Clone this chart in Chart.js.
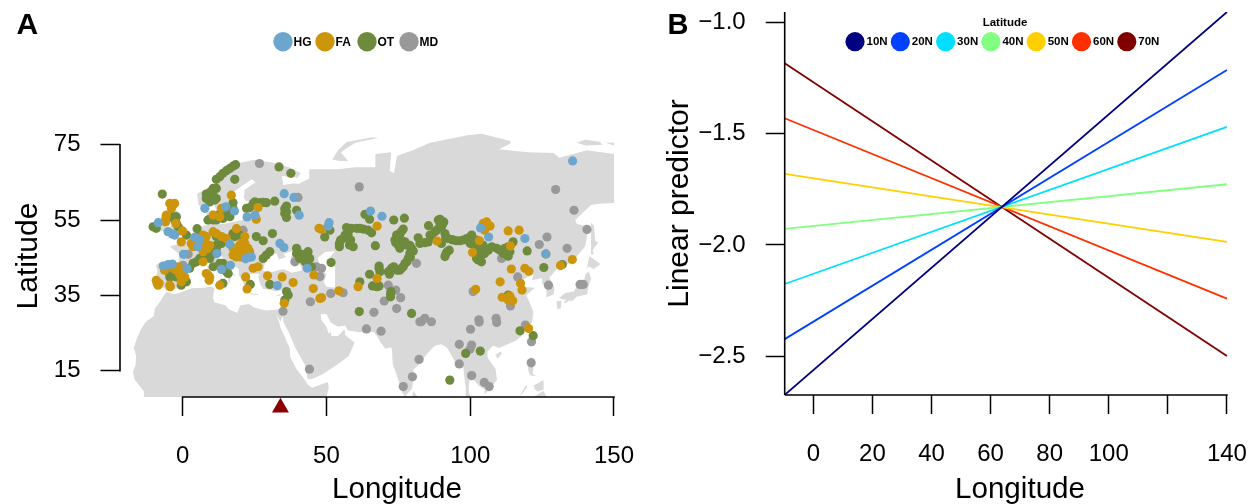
<!DOCTYPE html>
<html><head><meta charset="utf-8">
<style>
html,body{margin:0;padding:0;background:#fff;width:1257px;height:504px;overflow:hidden}
canvas{position:absolute;top:0}
#a{left:0}#b{left:660px}
</style>
<script src="https://cdn.jsdelivr.net/npm/chart.js@4"></script>
</head><body>
<canvas id="a" width="674" height="504"></canvas>
<canvas id="b" width="597" height="504"></canvas>
<script>
// ---------- Panel A data ----------
const mapXTicks=[0,50,100,150];
const mapYTicks=[15,35,55,75];
const groupNames=['HG','FA','OT','MD'];
const groupColors=['#6CA6CD','#CD950C','#6E8B3D','#999999'];
const sampleSiteLon=[34];
const sampleSiteLat=[5.2];
const hgPoints=[[-8.5,54.3],[-5.1,51.9],[-3.6,51.3],[-2.8,51],[4.2,50.4],[5.9,49.8],[5.3,47.9],[0.3,45.9],[-6.8,42.8],[-5.1,43.2],[-3.6,43.3],[1.5,42.1],[7.7,58.1],[15,58.5],[18,57.4],[22.4,55.8],[25.1,56.3],[16.4,48.6],[11.9,46.1],[13.5,41.9],[16.6,43],[21.9,44.7],[23.1,45.1],[23.9,45.2],[35.3,62],[38.7,61],[40.5,56.3],[33.8,48.8],[35.2,47.7],[43.3,42.2],[32.9,37.6],[50.9,54.3],[50.6,53.4],[65.3,57.4],[69.3,56],[103.6,52.9],[106.4,50.5],[119,50.1],[126.3,46],[135.6,70.7]];
const faPoints=[[-3.4,59],[-2.8,59.4],[-3.9,58.1],[-5.7,56.3],[-5.9,54.5],[-2.4,54.1],[-0.1,52.1],[-0.5,49.2],[3,48.8],[3.6,47.9],[7.1,51],[7.7,49.2],[8.8,47.5],[7.1,46.6],[10.6,51.9],[11.7,51.4],[13.5,50.6],[15.2,50.1],[18.7,52.7],[21.6,50.6],[19.8,48.3],[21.6,47.5],[18.7,46.6],[23.3,46.6],[17.5,45.7],[20.1,45.2],[22.7,47.5],[10.6,56.3],[13.5,58.1],[12.9,55.9],[16.9,61.6],[26.2,58.3],[25.6,55.2],[-9.2,39],[-8.2,38.2],[-4.3,37.3],[-0.5,38.6],[-1.6,42.6],[0.1,40.8],[7.1,43.9],[8.8,40.4],[9.2,39],[12.9,37.7],[21.9,39.9],[22.4,36.7],[24.5,42.2],[26.2,42.6],[29.5,40.2],[34.6,39.9],[38.4,38.4],[35.3,32.9],[45.6,40.4],[45.4,36.8],[47.7,34.2],[47.4,52.8],[17.5,47.5],[19.8,46.6],[21.6,48.8],[18.7,45.2],[6.5,48.3],[4.2,48.3],[-8.9,38.2],[-1,40.4],[-3.4,42.2],[-6.3,41.7],[48.3,52.5],[67.6,53.4],[88.5,49.4],[67.6,39.5],[61,37.3],[54.3,36.2],[48.3,34.4],[105.7,54.5],[106.9,53.4],[104.5,54.1],[105,52.3],[103.2,49.5],[100.8,46.4],[113.2,52.1],[117,52.3],[114,48.1],[114.3,42],[119,42.2],[120.4,41.4],[131.4,42.9],[135.5,44.5],[110.4,38.6],[117.5,38.2],[118,36.4],[101.9,36.6],[111.1,34.5],[113.8,34.8],[114.8,33.6],[113.2,33.8],[126.3,46],[120.3,26.2],[19.3,47.5],[21,46.1],[20.4,48.8],[22.7,45.7],[-2.2,41.7],[-0.5,41.7],[0.7,39.9],[-8.6,37.7],[-4.5,37.7],[8.2,40.8],[9.4,39.9],[-4.5,59.4],[-5.9,55.4],[8.2,50.6],[5.9,48.8],[9.4,48.3]];
const otPoints=[[11.7,65.8],[12.9,66.5],[14,67.4],[15.2,68.1],[16.4,68.7],[17.5,69.3],[18.4,69.7],[18.1,65.8],[33.5,69.1],[37.6,67.4],[-7.1,61.9],[8.2,61.9],[10.6,63.4],[11.7,63.4],[10,60.7],[10.6,61.6],[9.4,59.8],[11.7,60.7],[17.5,59.6],[17.5,58.1],[22.2,58.1],[23.3,58.3],[25.1,59.8],[26.8,59.6],[29.1,59.6],[32,60],[36.1,58.7],[36.1,57.2],[36.1,55.7],[39.6,57.6],[9.4,55.2],[11.7,55],[14,55.4],[16.4,57.2],[-10.3,53.2],[-9.2,52.8],[-2.2,55.9],[-2.2,54.1],[5,52.7],[1.3,51],[18.1,50.6],[25.6,50.6],[28,49.5],[31.2,51.4],[29.1,45.7],[28,44.8],[30.3,46.6],[11.7,48.3],[10.6,47],[8.2,45.2],[9.4,44.8],[5.9,44.8],[3.6,43.5],[2.4,42.2],[10.6,42.6],[14,43.5],[12.9,43.5],[15.2,41.3],[-3.4,40.4],[-4.5,39.9],[-2.2,39.9],[1.3,38.6],[14,38.2],[23.5,37.9],[30.3,37.9],[36.1,36],[36.7,35.1],[35.5,33.8],[39.6,47.5],[43,46.1],[40.7,44.8],[44.2,44.8],[41.3,45.7],[42.5,43.9],[44.8,42.6],[14.6,56.7],[11.7,50.6],[17.5,51.4],[5.9,50.6],[49.4,50.5],[51.2,52.3],[57,53],[58.7,52.8],[60.5,52.8],[62.8,52.6],[65.7,51.6],[57.5,51],[55.8,50.1],[54.5,48.8],[54.5,47.9],[58,48.4],[63.4,56.5],[65,55.2],[73.4,55],[77.1,55.5],[85.5,53.5],[89.5,55.2],[90.8,54.5],[90,53.2],[87.7,51.9],[86,51],[84.2,49],[81.9,50.3],[76.7,52.6],[75.5,51.4],[75,50.1],[74.1,49],[75.5,47.5],[77.3,49.2],[79,48.3],[80.2,46.8],[79.2,45.2],[78,43.9],[76.7,42.6],[75.5,41.7],[73.4,42.6],[71.9,40.6],[68.3,42.8],[68.6,41.3],[65,40.6],[61.6,38.6],[66.8,37.5],[68.3,37.5],[72.4,36],[72.3,34.6],[61.4,30.7],[67,48.2],[51.6,43.7],[79.6,30.2],[91.2,51.4],[92.3,50.1],[94.1,49.7],[96.4,49.5],[98.8,50.1],[100.5,51],[101.6,48.3],[103.4,46.6],[102.8,44.4],[103.9,43.9],[106.3,47],[109.2,47.5],[112,47.5],[113.2,45.4],[114.9,49.2],[119.8,46.8],[125.6,42.4],[132,43.2],[92,46.6],[91.2,45.3],[113.2,35.1],[117.3,25.6],[121.9,24.3],[98.4,19.6],[103.5,20.2],[92.9,12.5],[57.5,51.9],[56.5,51],[54.9,49.7],[58.4,49.7],[59.3,47.9],[61.6,52.8],[64.5,52.3],[74.4,51],[76,51.9],[73.8,49.7],[75,48.3],[76,49.7],[78,48.3],[79.6,47.5],[79,46.1],[78.4,44.8],[77.3,43.5],[76,42.1],[74.6,41.7],[72.6,42.2],[71.5,41.3],[68.3,42.2],[66,37.5],[67.6,37.3],[72.3,35.3],[82.5,48.8],[85.4,49.2],[86.5,50.5],[88.3,52.3],[89.5,53.6],[88.9,55],[90.4,53.9],[91.5,50.4],[93.5,49.8],[95.2,49.5],[97.6,49.7],[100,50.5],[100,48.8],[102.2,49.7],[104.5,48.3],[103.4,45.7],[102.2,44.8],[105,46.1],[107.5,47.9],[110.3,47],[111.5,46.1],[113.8,46.6],[113.2,47.9],[91.6,46.1],[92.7,47],[90,48.8],[8.2,60.7],[9.7,62.5],[11.1,60.3],[24.5,59.4],[28,59.7],[35.5,58],[35.5,56.7],[-2.8,55],[-1.6,53.2],[-3.4,55.9],[11.7,47.5],[13.5,48.8],[10.6,46.1],[7.1,45.2],[4.8,43.9],[19.8,51],[17.5,51],[-4.5,40.8],[-0.5,37.7],[15.8,40.8],[40.7,46.1],[42.5,45.2],[43.6,46.6],[39.6,46.1],[14,57.6],[12.3,56.3],[16.4,55.9],[8.8,55],[10.6,55]];
const mdPoints=[[26.7,70],[40.1,61],[1.9,45.9],[21,52.3],[44.4,33.3],[34.9,30.8],[39,43.9],[46.5,42.6],[0.1,43],[61.4,63.8],[129.7,63.1],[136.1,57.6],[140.6,52.5],[126.7,50.5],[124,48.5],[133.7,47.5],[110.9,44.8],[81.3,43.5],[48.3,42.2],[47.7,40],[51.5,35.5],[116.5,39.9],[127.2,37.7],[138.2,37.9],[139.3,37.9],[101,36],[114,32.2],[71.5,37.7],[74.1,36.4],[75.8,34.4],[70.1,33.5],[74.4,31.5],[66.5,30.5],[84.2,28.9],[86.5,28],[103,28.5],[109,28.9],[44.1,15.4],[63.9,26.1],[69,25.5],[55.8,35.7],[82.5,28],[82.2,18],[79.9,13.4],[76.7,10.8],[83,28],[100.1,26],[103.1,27.9],[109.2,27.8],[119.2,27.1],[121.3,22.7],[96.2,22],[100.5,21.8],[99.9,20.7],[96.2,16.8],[100.5,13.7],[104.9,11.9],[106.6,10.8],[121.2,17.1]];
// Land outlines (longitude, latitude)
const landMain=[[-13.5,8],[-13.5,9.5],[-15,11],[-16.7,12.5],[-17.3,14.7],[-16.4,16.5],[-16.2,19],[-17,21],[-15.9,23.7],[-14.5,26],[-12.9,27.9],[-10,29.5],[-9.7,31.5],[-8,33.2],[-6,35.6],[-5.3,35.9],[-3,35.3],[-1,35.7],[3,36.9],[7,37],[10,37.3],[11,36.9],[10.5,34.5],[11,33.2],[15,32.3],[16,31.3],[19,30.3],[20,32.3],[23,32.7],[25,31.7],[29,31],[32,31.2],[34.3,31.3],[35,33],[36,35.8],[36,36.8],[34,36.3],[32.3,36.1],[30.5,36.5],[28,36.7],[27,37.8],[26.5,39.3],[26.3,40.3],[27,40.7],[24,40.8],[23,40.4],[23.8,38],[23,36.5],[21.7,37],[21,38.5],[19.5,40.5],[19.5,42],[16,43.5],[14,45],[13,45.7],[12.3,45.2],[12.5,44],[14,42.5],[16,41.8],[18.5,40.2],[17,40.5],[16.5,39],[16,38],[15.7,40],[12.5,41.5],[10.5,43],[8.8,44.4],[6,43.1],[3.5,43.3],[3,42],[0.5,40.5],[-0.3,39],[-0.5,38],[-2,36.8],[-4.5,36.7],[-5.6,36],[-6.5,37],[-9,37],[-9.5,38.7],[-8.8,41.5],[-9.3,43],[-8,43.7],[-3,43.4],[-1.5,43.5],[-1.2,46],[-4.5,48],[-1.5,48.7],[-1.5,49.7],[1.5,50.2],[3.5,51.4],[5,53],[8.5,53.7],[8.2,57],[10.5,57.7],[10,55],[12,54],[14.5,54],[18.7,54.7],[21,55],[21,57],[24,57.2],[23.5,59.2],[28,59.7],[30,60],[25,60.2],[22,60],[21.3,61],[21.5,63],[25.3,65],[24,65.8],[21.5,64.5],[17.5,62.3],[17.3,60.5],[19,59.8],[16.5,57],[16,56.2],[14.3,55.5],[13,55.4],[11,59],[10.5,59.4],[8,58],[5.5,59],[5,62],[10,64],[14,67.5],[19,70],[25,71],[31,70.3],[37,69],[41,67.5],[40,66.2],[34.5,66.7],[35,64.3],[38,64.7],[40.5,64.6],[44,66],[44,68.5],[54,68.5],[60,69],[67,69],[67,72.5],[72.5,73],[72,68],[73.5,67.5],[74.5,72],[80,73.5],[86,75.5],[99,77.5],[104,77.9],[114,76],[114,75.3],[110,73.8],[120,73],[129,72.8],[131,71.5],[140.6,73.5],[150,72.5],[150,59.5],[145,59.3],[142,59],[136.5,55],[137,54],[141,53.2],[140.5,50],[140,48],[135,43.5],[132,43],[130.5,42.3],[127.5,39.7],[129.3,37],[129,35.2],[126.5,34.5],[126.5,37.5],[125,38],[125,39.6],[121.5,39],[122,40.7],[118,39],[119,37.2],[122.5,37],[119.5,35],[121,32.5],[122,30.5],[121.5,28],[118.5,24.7],[116,23],[113,22],[110,21],[108,21.7],[106,20],[106,18.5],[108.8,15.5],[109.3,12.5],[107,10.5],[105,8.6],[105,10],[103,11],[101,12.7],[100,13.5],[99.5,11],[99.5,9.5],[100,8],[98.3,8],[98.5,10],[98,13],[97.5,16.5],[95,16],[94.3,18],[92,21],[90,22],[88,21.7],[86.8,21],[85,19.5],[82,16.5],[80.2,15.3],[80.2,13],[79.8,10.3],[78,8.8],[77.5,8],[76.5,9],[74.8,13],[73,17],[72.8,20.5],[72.5,21.2],[70.5,20.8],[69,22.3],[68,23.7],[66.5,25.3],[61.5,25.2],[57.5,25.7],[56.5,27],[54,26.7],[51.5,27.8],[50,30],[48,30],[48.2,28.5],[50,26.7],[50.8,24.8],[51.5,25.5],[51.7,24.2],[54,24.2],[56.3,26],[56.5,24.5],[59.8,22.5],[57.8,19],[55,17.3],[52,15.7],[48.5,14],[45,12.8],[43.5,12.7],[42.8,15],[42.5,16.5],[39.2,21],[37,25],[35,28],[34.9,29.5],[34,28],[32.6,30],[33.5,28],[34,26.5],[35.5,24],[37.2,21],[37.5,18.5],[39.5,15.5],[43,12],[43.5,11.3],[45,10.5],[50.5,12],[50.8,10.5],[50,8]];
const landIslands=[
 [[-5.5,50],[1.3,51.2],[1.7,52.7],[0,53.5],[-2,56],[-2,57.5],[-4,57.7],[-3,58.6],[-5,58.6],[-6,56.5],[-5,55],[-3,54],[-4.5,53.3],[-4.5,52],[-5.2,51.7],[-3,51.3]],
 [[-6,52.2],[-10,51.7],[-10,54],[-8,55.2],[-6,54.8]],
 [[12.5,38],[15.5,38.2],[15,36.7]],
 [[8.3,39],[9.6,39.2],[9.4,41],[8.2,41]],
 [[8.6,41.5],[9.4,41.4],[9.5,43],[8.7,42.5]],
 [[23.5,35.3],[26.3,35.1],[26.2,35.3],[23.6,35.6]],
 [[32.4,34.8],[34.5,35.6],[33.6,34.9]],
 [[11,55.5],[12.5,55.5],[12.5,56],[11,55.9]],
 [[52,71],[55,70.7],[57.5,70.7],[55,73],[60,75.5],[68,76.8],[66,77],[57,75.7],[54,73.5]],
 [[137,75.5],[140,74.8],[146,75],[145,75.8],[140,76.3]],
 [[147,75.5],[150,74.8],[150,75.6]],
 [[142,54.3],[143,53.5],[143.5,49.5],[144.5,49],[142.5,47],[143,46],[142,46],[142,50]],
 [[140.3,41.7],[141.5,45.4],[145.3,43.3],[143,42],[141,42.7]],
 [[141.2,41.4],[142,39.5],[141,37],[140.7,35.3],[137,34.6],[135.5,33.5],[132,34],[131,34.4],[133,35.6],[136,36],[137,37.3],[139.5,38.5],[140,40.5]],
 [[132.5,33.3],[134.5,34.2],[134.2,33.5],[133,32.9]],
 [[130,33.5],[131.7,33.5],[131.5,31.5],[130.3,31.3]],
 [[120.2,23],[121,25.2],[122,25],[120.9,22]],
 [[108.7,19.2],[110.5,20.1],[111,19.6],[109.6,18.2]],
 [[79.8,8],[80.2,9.7],[81.3,8.5],[81.7,8]],
 [[120,16],[120.7,18.5],[122.2,18.4],[122,16],[121.7,14.2],[124,13],[123,13.5],[121,13.7],[120.3,14.7]],
 [[122,11],[123,11.5],[125.5,12.5],[125.5,10],[123.5,9.5],[122.5,10]],
 [[122,8],[123.5,8.7],[125.5,9.7],[126.5,8]],
 [[117.3,8.5],[119.5,11.3],[119.7,10.6],[118,8.8]]
];
const blackSea=[[28,41.5],[31,41.2],[35,42],[38,41],[41.5,41.7],[41,43],[37.5,45],[39,47],[35,46],[36,45.2],[33.5,44.5],[32.7,46],[30.7,46.5],[28.7,44]];
const caspianSea=[[47,45],[49.5,46.5],[53,46.7],[51,45],[53,42.5],[53,37],[50,37.3],[49,38.5],[50,40.5],[47.5,43]];

// ---------- Panel B data ----------
const predLon=[-9.68,140];
const predXTicks=[0,20,40,60,80,100,120,140];
const predXLabels=['0','20','40','60','80','100','','140'];
const predYTicks=[-1,-1.5,-2,-2.5];
const predYLabels=['\u22121.0','\u22121.5','\u22122.0','\u22122.5'];
const latNames=['10N','20N','30N','40N','50N','60N','70N'];
const latColors=['#000080','#0040FF','#00DFFF','#80FF80','#FFCF00','#FF3000','#800000'];
const pred10N=[-2.675,-0.952];
const pred20N=[-2.424,-1.213];
const pred30N=[-2.176,-1.469];
const pred40N=[-1.928,-1.727];
const pred50N=[-1.680,-1.986];
const pred60N=[-1.430,-2.242];
const pred70N=[-1.183,-2.500];
const predSeries=[pred10N,pred20N,pred30N,pred40N,pred50N,pred60N,pred70N];

const FONT='"Liberation Sans", Arial, sans-serif';
Chart.defaults.font.family=FONT;
Chart.defaults.color='#000';
Chart.defaults.animation=false;

function trace(ctx,x,y,poly){
  ctx.beginPath();
  poly.forEach((p,i)=>{const px=x.getPixelForValue(p[0]),py=y.getPixelForValue(p[1]);i?ctx.lineTo(px,py):ctx.moveTo(px,py);});
  ctx.closePath();
}
const landPlugin={id:'land',beforeDatasetsDraw(c){
  const {ctx,chartArea:a,scales:{x,y}}=c;
  ctx.save();ctx.beginPath();ctx.rect(a.left,a.top,a.right-a.left,a.bottom-a.top);ctx.clip();
  ctx.fillStyle='#D9D9D9';
  [landMain,...landIslands].forEach(p=>{trace(ctx,x,y,p);ctx.fill();});
  ctx.fillStyle='#fff';
  [blackSea,caspianSea].forEach(p=>{trace(ctx,x,y,p);ctx.fill();});
  ctx.restore();
}};
function axisLine(c,x0,y0,x1,y1){const {ctx}=c;ctx.save();ctx.strokeStyle='#000';ctx.lineWidth=1.6;ctx.beginPath();ctx.moveTo(x0,y0);ctx.lineTo(x1,y1);ctx.stroke();ctx.restore();}
const axesA={id:'axesA',afterDraw(c){
  const {x,y}=c.scales;const a=c.chartArea;
  axisLine(c,a.left,y.getPixelForValue(mapYTicks[0])+.8,a.left,y.getPixelForValue(mapYTicks[3])-.8);
  axisLine(c,x.getPixelForValue(mapXTicks[0])-.8,a.bottom,x.getPixelForValue(mapXTicks[3])+.8,a.bottom);
}};
const axesB={id:'axesB',afterDraw(c){
  const {x}=c.scales;const a=c.chartArea;
  axisLine(c,a.left,a.top,a.left,a.bottom);
  axisLine(c,a.left,a.bottom,x.getPixelForValue(140)+.8,a.bottom);
}};
function legendDraw(c,o){
  const {ctx}=c;ctx.save();ctx.textBaseline='middle';ctx.textAlign='left';
  o.names.forEach((n,i)=>{
    const cx=o.x+i*o.step;
    ctx.fillStyle=o.colors[i];ctx.beginPath();ctx.arc(cx,o.y,o.r,0,Math.PI*2);ctx.fill();
    ctx.fillStyle='#000';ctx.font=o.font;ctx.fillText(n,cx+o.gap,o.y+.5);
  });
  if(o.title){ctx.textAlign='center';ctx.font=o.font;ctx.fillStyle='#000';ctx.fillText(o.title,o.tx,o.ty);}
  ctx.font=o.pfont;ctx.textAlign='left';ctx.textBaseline='alphabetic';ctx.fillStyle='#000';ctx.fillText(o.panel,o.px,o.py);
  ctx.restore();
}
const legendPlugin={id:'rlegend',afterDraw(c,args,o){legendDraw(c,o);}};
const tickOpts=(len)=>({display:true,drawOnChartArea:false,drawTicks:true,tickLength:len,tickColor:'#000',tickWidth:1.5});
const fitX=h=>s=>{s.height=h;s.paddingLeft=0;s.paddingRight=0;};
const fitY=w=>s=>{s.width=w;s.paddingTop=0;s.paddingBottom=0;};

new Chart(document.getElementById('a'),{
  type:'scatter',
  data:{datasets:[
    {label:'Site',data:sampleSiteLon.map((v,i)=>({x:v,y:sampleSiteLat[i]})),pointStyle:'triangle',pointRadius:9.8,pointHoverRadius:20,backgroundColor:'#8B0000',borderWidth:0,clip:false},
    ...[hgPoints,faPoints,otPoints,mdPoints].map((pts,i)=>({label:groupNames[i],data:pts.map(p=>({x:p[0],y:p[1]})),backgroundColor:groupColors[i],borderWidth:0,pointRadius:4.6,pointHoverRadius:4.6}))
  ]},
  plugins:[landPlugin,axesA,legendPlugin],
  options:{responsive:false,events:[],
    layout:{autoPadding:false,padding:{top:115,right:0,bottom:0,left:0}},
    plugins:{legend:{display:false},tooltip:{enabled:false},
      rlegend:{names:groupNames,colors:groupColors,x:283,step:42,y:41.7,r:9.7,gap:10.5,font:'bold 12px '+FONT,panel:'A',px:16.5,py:34,pfont:'bold 30px '+FONT}},
    scales:{
      x:{type:'linear',min:-21.806,max:170.87,afterBuildTicks:s=>{s.ticks=mapXTicks.map(v=>({value:v}));},afterFit:fitX(107),
        grid:tickOpts(19),border:{display:false},
        ticks:{autoSkip:false,maxRotation:0,padding:26,font:{size:24},color:'#000'},
        title:{display:true,text:'Longitude',font:{size:29.6},color:'#000',padding:{top:0,bottom:-4}}},
      y:{type:'linear',min:8.02,max:82.88,afterBuildTicks:s=>{s.ticks=mapYTicks.map(v=>({value:v}));},afterFit:fitY(120),
        grid:tickOpts(19.5),border:{display:false},
        ticks:{autoSkip:false,padding:20,font:{size:24},color:'#000'},
        title:{display:true,text:'Latitude',font:{size:30},color:'#000',padding:{top:11,bottom:0}}}
    }}
});

new Chart(document.getElementById('b'),{
  type:'scatter',
  data:{datasets:predSeries.map((s,i)=>({label:latNames[i],data:s.map((v,j)=>({x:predLon[j],y:v})),showLine:true,borderColor:latColors[i],backgroundColor:latColors[i],borderWidth:1.8,pointRadius:0}))},
  plugins:[axesB,legendPlugin],
  options:{responsive:false,events:[],
    layout:{autoPadding:false,padding:{top:12,right:1.7,bottom:0,left:0}},
    plugins:{legend:{display:false},tooltip:{enabled:false},
      rlegend:{names:latNames,colors:latColors,x:195,step:45.3,y:41.7,r:9.6,gap:11.5,font:'bold 11.5px '+FONT,title:'Latitude',tx:345,ty:22.7,panel:'B',px:7.5,py:33.5,pfont:'bold 29px '+FONT}},
    scales:{
      x:{type:'linear',min:-9.68,max:149.6,afterBuildTicks:s=>{s.ticks=predXTicks.map(v=>({value:v}));},afterFit:fitX(109),
        grid:tickOpts(19),border:{display:false},
        ticks:{autoSkip:false,maxRotation:0,padding:26,font:{size:24},color:'#000',callback:(v)=>predXLabels[predXTicks.indexOf(v)]},
        title:{display:true,text:'Longitude',font:{size:29.6},color:'#000',padding:{top:0,bottom:-4}}},
      y:{type:'linear',min:-2.6755,max:-0.9518,afterBuildTicks:s=>{s.ticks=predYTicks.map(v=>({value:v}));},afterFit:fitY(124.7),
        grid:tickOpts(19),border:{display:false},
        ticks:{autoSkip:false,padding:20,font:{size:24},color:'#000',callback:(v)=>predYLabels[predYTicks.indexOf(v)]},
        title:{display:true,text:'Linear predictor',font:{size:30},color:'#000',padding:{top:2,bottom:0}}}
    }}
});
</script>
</body></html>
